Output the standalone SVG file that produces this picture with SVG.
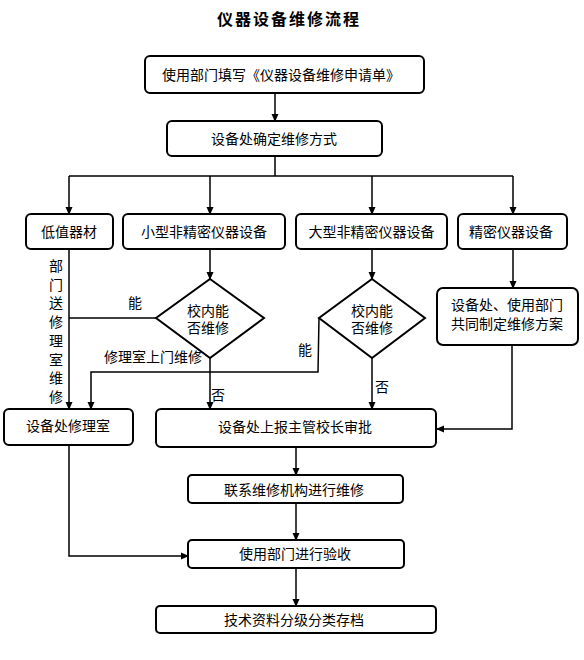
<svg xmlns="http://www.w3.org/2000/svg" width="584" height="660" viewBox="0 0 584 660">
<defs>
<marker id="ah" markerWidth="8" markerHeight="8" refX="7" refY="4" orient="auto" markerUnits="userSpaceOnUse">
<path d="M0,0.5 L8,4 L0,7.5 Z" fill="#000"/>
</marker>
<style>
.box{fill:#fff;stroke:#000;stroke-width:2}
.t{font-family:"Liberation Sans","Noto Sans CJK SC",sans-serif;font-size:14px;fill:#000;text-anchor:middle;dominant-baseline:central}
.ttl{font-family:"Noto Sans CJK SC",sans-serif;font-size:16px;font-weight:bold;letter-spacing:2px;fill:#000;text-anchor:middle;dominant-baseline:central}
.c{fill:none;stroke:#000;stroke-width:1.5}
.a{marker-end:url(#ah)}
</style>
</defs>
<rect width="584" height="660" fill="#fff"/>
<text class="ttl" x="289" y="18">仪器设备维修流程</text>

<g id="connectors">
<path class="c a" d="M275,93 V121"/>
<path class="c" d="M275,156 V176 M69,176 H513"/>
<path class="c a" d="M69,176 V214"/>
<path class="c a" d="M210,176 V214"/>
<path class="c a" d="M372,176 V214"/>
<path class="c a" d="M513,176 V214"/>
<path class="c a" d="M210,249 V279"/>
<path class="c a" d="M372,249 V279"/>
<path class="c a" d="M513,249 V288"/>
<path class="c a" d="M69,249 V409"/>
<path class="c" d="M156,318 H69"/>
<path class="c a" d="M210,358 V409"/>
<path class="c a" d="M319,318 L318,372 H91 V409"/>
<path class="c a" d="M372,358 V409"/>
<path class="c a" d="M512,345 V429 H437"/>
<path class="c a" d="M296,447 V475"/>
<path class="c a" d="M296,503 V540"/>
<path class="c a" d="M69,445 V556 H188"/>
<path class="c a" d="M296,568 V606"/>
<text class="t" x="135" y="303">能</text>
<text class="t" x="153" y="357">修理室上门维修</text>
<text class="t" x="218" y="395">否</text>
<text class="t" x="305" y="350">能</text>
<text class="t" x="382" y="387">否</text>
<text class="t" x="56" y="266"><tspan x="56" y="266">部</tspan><tspan x="56" y="284.7">门</tspan><tspan x="56" y="303.4">送</tspan><tspan x="56" y="322.1">修</tspan><tspan x="56" y="340.8">理</tspan><tspan x="56" y="359.5">室</tspan><tspan x="56" y="378.2">维</tspan><tspan x="56" y="396.9">修</tspan></text>
</g>

<g id="n1"><rect class="box" x="145" y="56" width="279" height="37" rx="5"/><text class="t" x="281" y="75">使用部门填写《仪器设备维修申请单》</text></g>
<g id="n2"><rect class="box" x="167" y="121" width="215" height="35" rx="5"/><text class="t" x="274" y="138.5">设备处确定维修方式</text></g>
<g id="n3"><rect class="box" x="26" y="214" width="87" height="35" rx="5"/><text class="t" x="69" y="231.5">低值器材</text></g>
<g id="n4"><rect class="box" x="123" y="214" width="162" height="35" rx="5"/><text class="t" x="204" y="231.5">小型非精密仪器设备</text></g>
<g id="n5"><rect class="box" x="296" y="214" width="151" height="35" rx="5"/><text class="t" x="371.5" y="231.5">大型非精密仪器设备</text></g>
<g id="n6"><rect class="box" x="458" y="214" width="109" height="35" rx="5"/><text class="t" x="511" y="231.5">精密仪器设备</text></g>
<g id="d1"><path class="box" d="M210,279 L264,318 L210,358 L156,318 Z"/><text class="t" x="208" y="311">校内能</text><text class="t" x="208" y="328">否维修</text></g>
<g id="d2"><path class="box" d="M372,279 L425,318 L372,358 L319,318 Z"/><text class="t" x="372" y="311">校内能</text><text class="t" x="372" y="328">否维修</text></g>
<g id="n7"><rect class="box" x="437" y="288" width="141" height="57" rx="6"/><text class="t" x="507" y="305">设备处、使用部门</text><text class="t" x="507" y="324">共同制定维修方案</text></g>
<g id="n8"><rect class="box" x="4" y="409" width="129" height="36" rx="5"/><text class="t" x="68" y="426">设备处修理室</text></g>
<g id="n9"><rect class="box" x="156" y="409" width="280" height="38" rx="5"/><text class="t" x="295" y="427">设备处上报主管校长审批</text></g>
<g id="n10"><rect class="box" x="188" y="475" width="215" height="28" rx="4"/><text class="t" x="294" y="489.5">联系维修机构进行维修</text></g>
<g id="n11"><rect class="box" x="188" y="540" width="216" height="28" rx="4"/><text class="t" x="295" y="554">使用部门进行验收</text></g>
<g id="n12"><rect class="box" x="156" y="606" width="280" height="27" rx="4"/><text class="t" x="294" y="619.5">技术资料分级分类存档</text></g>
</svg>
